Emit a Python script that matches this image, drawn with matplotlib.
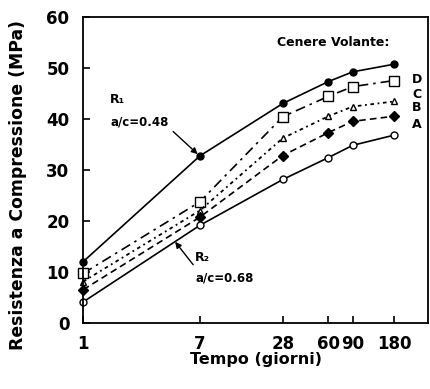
import matplotlib
matplotlib.use("Agg")
import matplotlib.pyplot as plt

# tempo di maturazione (giorni)
days = [1, 7, 28, 60, 90, 180]
tick_labels = ['1', '7', '28', '60', '90', '180']

# resistenza a compressione (MPa)
r1 = [12.0, 32.7, 43.0, 47.3, 49.2, 50.7]      # a/c = 0.48
fa_c = [9.7, 23.7, 40.4, 44.4, 46.3, 47.5]     # quadrati
fa_b = [8.1, 22.0, 36.2, 40.5, 42.4, 43.4]     # triangoli
fa_a = [6.5, 20.7, 32.8, 37.3, 39.5, 40.5]     # rombi pieni
r2 = [4.1, 19.1, 28.1, 32.4, 34.8, 36.8]       # a/c = 0.68

series_labels = ['D', 'C', 'B', 'A']
label_y = [47.6, 44.7, 42.2, 38.8]

plt.rcParams['font.family'] = 'DejaVu Sans'
plt.rcParams['font.weight'] = 'bold'

fig = plt.figure(figsize=(4.31, 3.89), dpi=100)
ax = fig.add_axes([0.193, 0.170, 0.800, 0.787])

ax.plot(days, r1, 'k-', lw=1.2, marker='o', ms=5, mfc='black', clip_on=False)
ax.plot(days, fa_c, 'k-.', lw=1.2, marker='s', ms=6.5, mfc='white', clip_on=False,
        dashes=(6, 3, 1.5, 3))
ax.plot(days, fa_b, 'k:', lw=1.3, marker='^', ms=5, mfc='white', clip_on=False,
        dashes=(2, 2, 1, 2))
ax.plot(days, fa_a, 'k--', lw=1.2, marker='D', ms=5, mfc='black', clip_on=False,
        dashes=(4, 2.5))
ax.plot(days, r2, 'k-', lw=1.2, marker='o', ms=5, mfc='white', clip_on=False)

ax.set_xscale('log')
ax.set_xlim(1, 316)
ax.set_ylim(0, 60)
ax.set_xticks(days)
ax.set_xticklabels(tick_labels)
ax.minorticks_off()
ax.set_yticks(range(0, 61, 10))

ax.tick_params(axis='both', direction='in', length=5, width=1.2,
               labelsize=12, top=False, right=False)
ax.tick_params(axis='x', pad=9)
ax.tick_params(axis='y', pad=10)
for lab in ax.get_xticklabels() + ax.get_yticklabels():
    lab.set_fontweight('bold')
for sp in ax.spines.values():
    sp.set_linewidth(1.3)

ax.set_xlabel('Tempo (giorni)', fontsize=11.5, fontweight='bold', labelpad=-1)
ax.set_ylabel('Resistenza a Compressione (MPa)', fontsize=12.4, fontweight='bold')
ax.yaxis.set_label_coords(-0.163, 0.45)

ax.text(25.5, 54.9, 'Cenere Volante:', fontsize=9, fontweight='bold', va='center')
for lab, y in zip(series_labels, label_y):
    ax.text(242, y, lab, fontsize=9, fontweight='bold', va='center')

ax.text(1.57, 43.7, 'R₁', fontsize=9, fontweight='bold', va='center')
ax.text(1.57, 39.4, 'a/c=0.48', fontsize=8.5, fontweight='bold', va='center')
ax.annotate('', xy=(7, 32.7), xytext=(4.49, 37.5),
            arrowprops=dict(arrowstyle='-|>', color='black', lw=1.0,
                            mutation_scale=9, shrinkA=0, shrinkB=2))

ax.text(6.48, 12.9, 'R₂', fontsize=9, fontweight='bold', va='center')
ax.text(6.48, 8.8, 'a/c=0.68', fontsize=8.5, fontweight='bold', va='center')
ax.annotate('', xy=(4.64, 15.9), xytext=(6.27, 11.4),
            arrowprops=dict(arrowstyle='-|>', color='black', lw=1.0,
                            mutation_scale=9, shrinkA=0, shrinkB=0))

fig.savefig('out.png', dpi=100)
